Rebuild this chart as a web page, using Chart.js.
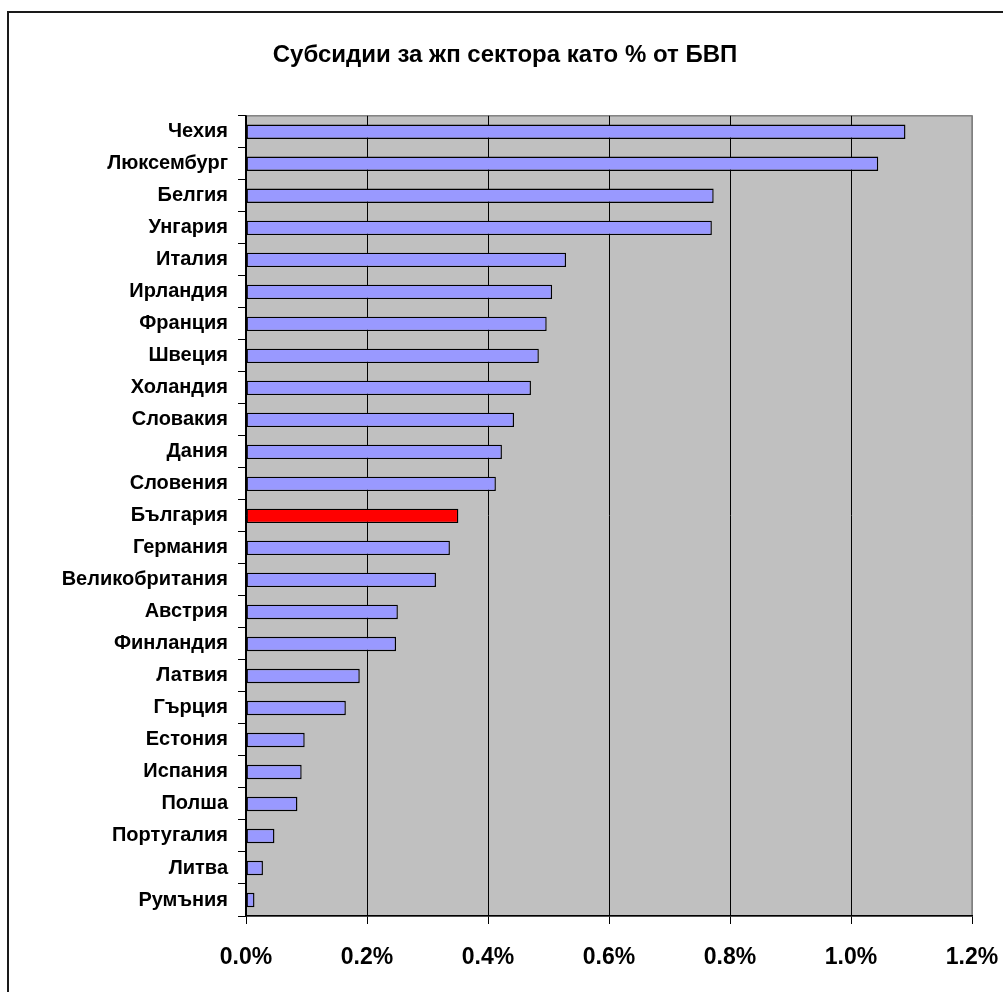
<!DOCTYPE html>
<html>
<head>
<meta charset="utf-8">
<script src="https://cdn.jsdelivr.net/npm/chart.js@4"></script>
<style>
  body { margin: 0; background: #fff; overflow: hidden; }
  #frame { position: absolute; left: 7px; top: 11px; width: 1100px; height: 1100px; border: 2px solid #1a1a1a; }
  #chart { position: absolute; left: 0; top: 0; }
</style>
</head>
<body>
<div id="frame"></div>
<canvas id="chart" width="1003" height="992"></canvas>
<script>
// Countries, top to bottom
const countries = [
  'Чехия', 'Люксембург', 'Белгия', 'Унгария', 'Италия', 'Ирландия', 'Франция',
  'Швеция', 'Холандия', 'Словакия', 'Дания', 'Словения', 'България', 'Германия',
  'Великобритания', 'Австрия', 'Финландия', 'Латвия', 'Гърция', 'Естония',
  'Испания', 'Полша', 'Португалия', 'Литва', 'Румъния'
];

// Subsidies as % of GDP
const subsidies = [
  1.090, 1.045, 0.773, 0.770, 0.529, 0.506, 0.497,
  0.484, 0.471, 0.443, 0.423, 0.413, 0.351, 0.337,
  0.314, 0.251, 0.248, 0.188, 0.165, 0.097,
  0.092, 0.085, 0.047, 0.028, 0.014
];

const xTicks = [0, 0.2, 0.4, 0.6, 0.8, 1.0, 1.2];

const highlight = 'България';
const FONT = "Arial, 'Liberation Sans', sans-serif";

// Grey plot area like the old spreadsheet charts
const plotBackground = {
  id: 'plotBackground',
  beforeDraw(chart) {
    const { ctx, chartArea: a } = chart;
    ctx.save();
    ctx.fillStyle = '#c0c0c0';
    ctx.fillRect(a.left, a.top, a.right - a.left, a.bottom - a.top);
    ctx.strokeStyle = '#808080';
    ctx.lineWidth = 1.5;
    ctx.strokeRect(a.left, a.top, a.right - a.left, a.bottom - a.top);
    ctx.restore();
  }
};

const ctx = document.getElementById('chart').getContext('2d');
new Chart(ctx, {
  type: 'bar',
  data: {
    labels: countries,
    datasets: [{
      data: subsidies,
      backgroundColor: countries.map(c => c === highlight ? '#ff0000' : '#9999ff'),
      borderColor: '#000',
      borderWidth: 1.4,
      borderSkipped: false,
      barPercentage: 0.45,
      categoryPercentage: 1
    }]
  },
  options: {
    indexAxis: 'y',
    responsive: false,
    animation: false,
    layout: { padding: { left: 38, right: 31, top: 0, bottom: 0 } },
    plugins: {
      legend: { display: false },
      tooltip: { enabled: false },
      title: {
        display: true,
        text: 'Субсидии за жп сектора като % от БВП',
        color: '#000',
        font: { family: FONT, size: 24, weight: 'bold' },
        padding: { top: 41, bottom: 46 }
      }
    },
    scales: {
      x: {
        min: 0,
        max: 1.2,
        afterFit: scale => {
          scale.height = 76;
          scale.paddingLeft = 0;
          scale.paddingRight = 0;
        },
        afterBuildTicks: scale => { scale.ticks = xTicks.map(v => ({ value: v })); },
        ticks: {
          color: '#000',
          padding: 20,
          font: { family: FONT, size: 23, weight: 'bold' },
          callback: v => v.toFixed(1) + '%'
        },
        grid: {
          color: c => (c.tick && c.tick.value >= 1.2 ? '#808080' : '#000'),
          lineWidth: 1,
          tickLength: 8,
          tickColor: '#000'
        },
        border: { display: true, color: '#000', width: 1.5 }
      },
      y: {
        afterFit: scale => { scale.width = 208; },
        ticks: {
          color: '#000',
          padding: 10,
          autoSkip: false,
          font: { family: FONT, size: 20, weight: 'bold' }
        },
        grid: {
          offset: true,
          drawOnChartArea: false,
          tickLength: 8,
          tickColor: '#000'
        },
        border: { display: true, color: '#000', width: 1.5 }
      }
    }
  },
  plugins: [plotBackground]
});
</script>
</body>
</html>
